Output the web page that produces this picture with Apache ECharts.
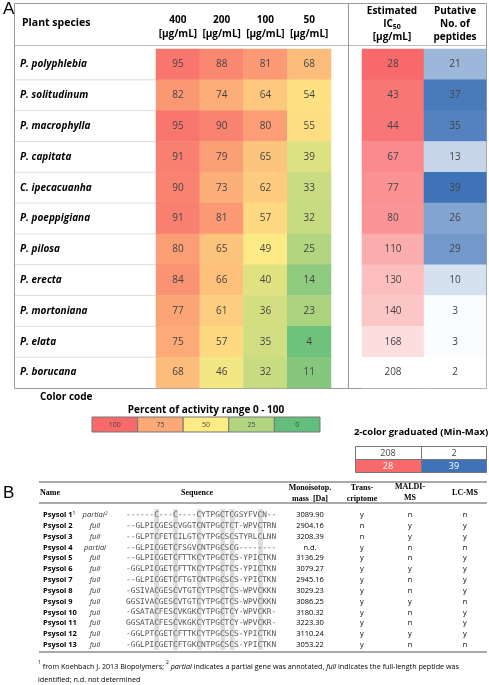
<!DOCTYPE html>
<html><head><meta charset="utf-8">
<script src="https://cdn.jsdelivr.net/npm/echarts@6/dist/echarts.min.js"></script>
<style>html,body{margin:0;padding:0;background:#fff}#c{width:489px;height:685px}</style>
</head><body><div id="c"></div>
<script>
const species = ['P. polyphlebia','P. solitudinum','P. macrophylla','P. capitata','C. ipecacuanha','P. poeppigiana','P. pilosa','P. erecta','P. mortoniana','P. elata','P. borucana'];
const concentrations = ['400','200','100','50'];
const act400 = [95,82,95,91,90,91,80,84,77,75,68];
const act200 = [88,74,90,79,73,81,65,66,61,57,46];
const act100 = [81,64,80,65,62,57,49,40,36,35,32];
const act50  = [68,54,55,39,33,32,25,14,23,4,11];
const ic50   = [28,43,44,67,77,80,110,130,140,168,208];
const peptides = [21,37,35,13,39,26,29,10,3,3,2];
const legendVals = [100,75,50,25,0];

const psNames = ['Psysol 1','Psysol 2','Psysol 3','Psysol 4','Psysol 5','Psysol 6','Psysol 7','Psysol 8','Psysol 9','Psysol 10','Psysol 11','Psysol 12','Psysol 13'];
const psStatus = ['partial','full','full','partial','full','full','full','full','full','full','full','full','full'];
const psSeq = ['------C---C----CYTPGCTCGSYFVCN--','--GLPICGESCVGGTCNTPGCTCT-WPVCTRN','--GLPTCFETCILGTCYTPGCSCSTYRLCLNN','--GLPICGETCFSGVCNTPGCSCG--------','--GLPICGETCFTTKCYTPGCTCS-YPICTKN','-GGLPICGETCFTTKCYTPGCTCS-YPICTKN','--GLPICGETCFTGTCNTPGCSCS-YPICTKN','-GSIVACGESCVTGTCYTPGCTCS-WPVCKKN','GGSIVACGESCVTGTCYTPGCTCS-WPVCKKN','-GSATACFESCVKGKCYTPGCTCY-WPVCKR-','GGSATACFESCVKGKCYTPGCTCY-WPVCKR-','-GGLPTCGETCFTTKCYTPGCSCS-YPICTKN','-GGLPICGETCFTGKCNTPGCSCS-YPICTKN'];
const psMass = ['3089.90','2904.16','3208.39','n.d.','3136.29','3079.27','2945.16','3029.23','3086.25','3180.32','3223.30','3110.24','3053.22'];
const psTrans = ['y','n','n','y','y','y','y','y','y','y','y','y','y'];
const psMaldi = ['n','y','y','n','n','y','n','n','y','n','n','y','n'];
const psLcms  = ['n','y','y','n','y','y','y','y','n','y','y','y','n'];
const cysCols = [6,10,15,20,22,28];

const heat = [];
[act400,act200,act100,act50].forEach((arr,ci)=>arr.forEach((v,ri)=>heat.push([ci,ri,v])));
const icData = ic50.map((v,i)=>[0,i,v]);
const pepData = peptides.map((v,i)=>[1,i,v]);

const G = [];
const txt = (x,y,s,o)=>G.push({type:'text',x,y,style:Object.assign({text:s,fill:'#000',font:'10px "Open Sans"'},o||{})});
const rect=(x,y,w,h,fill,stroke)=>G.push({type:'rect',shape:{x,y,width:w,height:h},style:{fill:fill||'none',stroke:stroke||null,lineWidth:1}});
const line=(x1,y1,x2,y2,c,w)=>G.push({type:'line',shape:{x1,y1,x2,y2},style:{stroke:c,lineWidth:w||1}});

txt(3,1,'A',{font:'17px "Liberation Sans"'});
rect(14.5,3.5,334,385,null,'#999');
rect(348.5,3.5,138,385,null,'#999');
txt(22,18,'Plant species',{font:'bold 10.5px "Open Sans"'});
line(15,45.5,348,45.5,'#bbb');
line(349,45.5,486,45.5,'#bbb');
const rh = 339/species.length;
for(let i=1;i<species.length;i++) line(15,49+i*rh,156,49+i*rh,'#ddd');
txt(392,24,'Estimated\nIC{s|50}\n[µg/mL]',{font:'bold 10px "Open Sans"',align:'center',verticalAlign:'middle',lineHeight:13,rich:{s:{font:'bold 7px "Open Sans"',verticalAlign:'bottom'}}});
txt(455,24,'Putative\nNo. of\npeptides',{font:'bold 10px "Open Sans"',align:'center',verticalAlign:'middle',lineHeight:13});

// legend
txt(40,392,'Color code',{font:'bold 10px "Open Sans"'});
txt(206,405,'Percent of activity range 0 - 100',{font:'bold 10px "Open Sans"',align:'center'});
const legCols=['#F8696B','#FBAA77','#FFEB84','#B1D580','#63BE7B'];
legendVals.forEach((v,i)=>{rect(92+i*45.6,417,45.6,15,legCols[i],'#777');txt(92+i*45.6+22.8,424.5,String(v),{font:'7px "Open Sans"',align:'center',verticalAlign:'middle',fill:'#444'});});
txt(421,432,'2-color graduated (Min-Max)',{font:'bold 9.5px "Open Sans"',align:'center',verticalAlign:'middle'});
rect(355.5,446.5,66,13,'#fff','#777');rect(421.5,446.5,65,13,'#fff','#777');
rect(355.5,459.5,66,13,'#F8696B','#777');rect(421.5,459.5,65,13,'#3F73B7','#777');
txt(388,453,String(Math.max(...ic50)),{font:'9px "Open Sans"',align:'center',verticalAlign:'middle',fill:'#444'});
txt(454,453,String(Math.min(...peptides)),{font:'9px "Open Sans"',align:'center',verticalAlign:'middle',fill:'#444'});
txt(388,466,String(Math.min(...ic50)),{font:'9px "Open Sans"',align:'center',verticalAlign:'middle',fill:'#fff'});
txt(454,466,String(Math.max(...peptides)),{font:'9px "Open Sans"',align:'center',verticalAlign:'middle',fill:'#fff'});

// Panel B
txt(3,485,'B',{font:'17px "Liberation Sans"'});
line(39,482,487,482,'#555',1.2);
line(39,503,487,503,'#555',1.2);
line(39,652,487,652,'#555',1.2);
const hf='bold 8px "Liberation Serif"';
txt(40,493,'Name',{font:hf,verticalAlign:'middle'});
txt(197,493,'Sequence',{font:hf,align:'center',verticalAlign:'middle'});
txt(310,493,'Monoisotop.\nmass  [Da]',{font:hf,align:'center',verticalAlign:'middle',lineHeight:11});
txt(362,493,'Trans-\ncriptome',{font:hf,align:'center',verticalAlign:'middle',lineHeight:11});
txt(410,492,'MALDI-\nMS',{font:hf,align:'center',verticalAlign:'middle',lineHeight:11});
txt(465,493,'LC-MS',{font:hf,align:'center',verticalAlign:'middle'});
const sx=126, cw=4.72, ry0=515, rs=10.83;
cysCols.forEach(c=>rect(sx+c*cw,509,cw,141,'#dcdcdc',null));
psNames.forEach((n,i)=>{
  const y=ry0+i*rs;
  txt(43,y,n+(i===0?'{s|1}':''),{font:'bold 7.5px "Open Sans"',verticalAlign:'middle',rich:{s:{font:'5px "Open Sans"',verticalAlign:'top'}}});
  txt(95,y,psStatus[i]+(i===0?'{s|2}':''),{font:'italic 7.5px "Open Sans"',align:'center',verticalAlign:'middle',fill:'#333',rich:{s:{font:'italic 5px "Open Sans"',verticalAlign:'top'}}});
  txt(sx,y,psSeq[i],{font:'7.8px "DejaVu Sans Mono"',verticalAlign:'middle',fill:'#555'});
  txt(310,y,psMass[i],{font:'7.5px "Open Sans"',align:'center',verticalAlign:'middle'});
  txt(362,y,psTrans[i],{font:'7.5px "Open Sans"',align:'center',verticalAlign:'middle'});
  txt(410,y,psMaldi[i],{font:'7.5px "Open Sans"',align:'center',verticalAlign:'middle'});
  txt(465,y,psLcms[i],{font:'7.5px "Open Sans"',align:'center',verticalAlign:'middle'});
});
txt(38,660,'{s|1} from Koehbach J. 2013 Biopolymers; {s|2} {i|partial} indicates a partial gene was annotated, {i|full} indicates the full-length peptide was\nidentified; n.d. not determined',{font:'7.2px "Open Sans"',lineHeight:13,rich:{s:{font:'5px "Open Sans"',verticalAlign:'top'},i:{font:'italic 7.2px "Open Sans"'}}});

const chart = echarts.init(document.getElementById('c'),null,{renderer:'canvas'});
chart.setOption({
  animation:false,
  grid:[{left:156,width:175,top:49,height:339},{left:362,width:124,top:49,height:339}],
  xAxis:[
    {gridIndex:0,type:'category',data:concentrations,position:'top',axisLine:{show:false},axisTick:{show:false},
     axisLabel:{interval:0,formatter:v=>v+'\n[µg/mL]',fontWeight:'bold',fontSize:10,fontFamily:'Open Sans',color:'#000',lineHeight:14,margin:8}},
    {gridIndex:1,type:'category',data:['IC50','peptides'],show:false}
  ],
  yAxis:[
    {gridIndex:0,type:'category',data:species,inverse:true,axisLine:{show:false},axisTick:{show:false},
     axisLabel:{interval:0,align:'left',margin:136,fontWeight:'bold',fontStyle:'italic',fontSize:10,fontFamily:'Open Sans',color:'#000'}},
    {gridIndex:1,type:'category',data:species,inverse:true,show:false}
  ],
  visualMap:[
    {show:false,seriesIndex:0,min:0,max:100,inRange:{color:['#63BE7B','#FFEB84','#F8696B']}},
    {show:false,seriesIndex:1,min:Math.min(...ic50),max:Math.max(...ic50),inRange:{color:['#F8696B','#FFFFFF']}},
    {show:false,seriesIndex:2,min:Math.min(...peptides),max:Math.max(...peptides),inRange:{color:['#FFFFFF','#3F73B7']}}
  ],
  series:[
    {type:'heatmap',xAxisIndex:0,yAxisIndex:0,data:heat,label:{show:true,fontSize:10,color:'#444',fontFamily:'Open Sans'}},
    {type:'heatmap',xAxisIndex:1,yAxisIndex:1,data:icData,label:{show:true,fontSize:10,color:'#444',fontFamily:'Open Sans'}},
    {type:'heatmap',xAxisIndex:1,yAxisIndex:1,data:pepData,label:{show:true,fontSize:10,color:'#444',fontFamily:'Open Sans'}}
  ],
  graphic:G
});
</script></body></html>
